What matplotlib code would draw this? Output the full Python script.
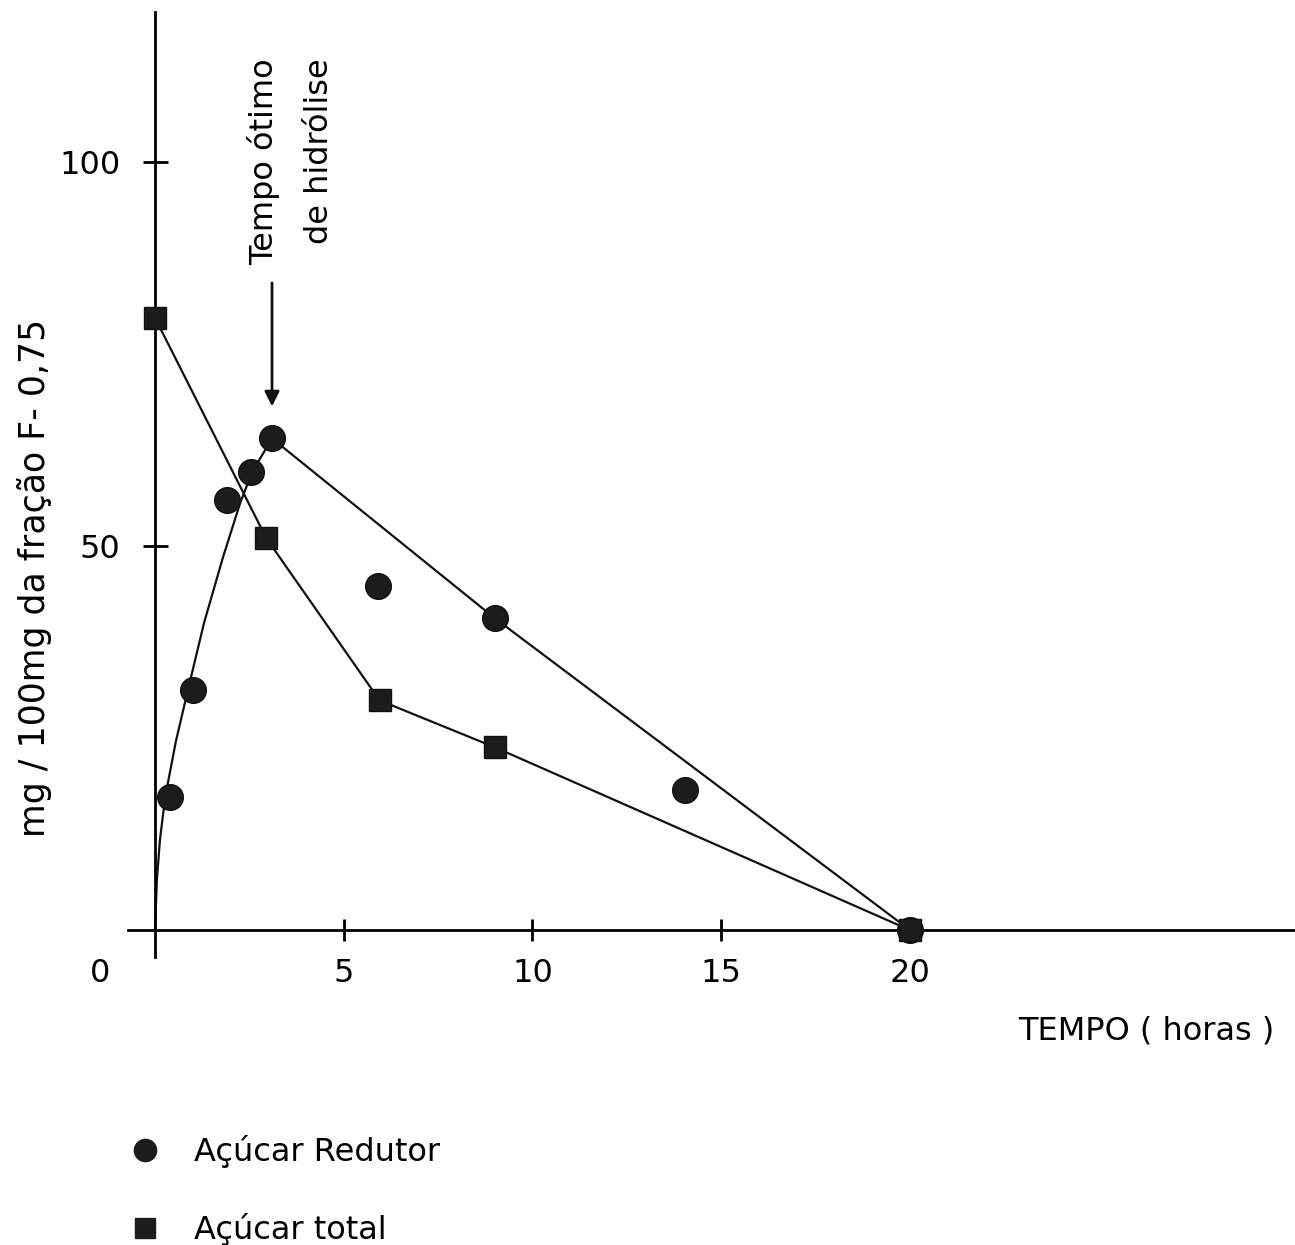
import numpy as np
import matplotlib
matplotlib.use("Agg")
import matplotlib.pyplot as plt
from matplotlib.lines import Line2D

plt.rcParams['font.family'] = ['DejaVu Sans']

# Açúcar Redutor (circles)
red_x = [0.4, 1.0, 1.9, 2.55, 3.1, 5.9, 9.0, 14.05, 20.0]
red_y = [17.3, 31.2, 56.0, 59.6, 64.0, 44.8, 40.6, 18.2, 0.0]
# hand-drawn guide curve for Açúcar Redutor
red_curve_x = [0.0, 0.05, 0.13, 0.27, 0.55, 0.87, 1.3, 1.8, 2.25, 2.57, 3.1, 9.0, 20.0]
red_curve_y = [0.0, 6.5, 11.7, 17.3, 24.5, 31.2, 40.0, 48.5, 55.5, 59.6, 64.0, 40.6, 0.0]

# Açúcar total (squares)
tot_x = [0.0, 2.95, 5.95, 9.0, 20.0]
tot_y = [79.7, 51.0, 29.9, 23.8, 0.0]

xticks = [5, 10, 15, 20]
xtick_labels = ["5", "10", "15", "20"]
yticks = [50, 100]
ytick_labels = ["50", "100"]

W, H = 1295, 1245
fig = plt.figure(figsize=(W / 100, H / 100), dpi=100)
ax = fig.add_axes([128 / W, 1 - 957 / H, (1295 - 128) / W, (957 - 12) / H])
ax.set_xlim(-0.715, 30.2)
ax.set_ylim(-3.5, 119.5)
ax.set_facecolor('white')

for s in ['top', 'right']:
    ax.spines[s].set_visible(False)
ax.spines['left'].set_position(('data', 0))
ax.spines['bottom'].set_position(('data', 0))
ax.spines['left'].set_linewidth(2.0)
ax.spines['bottom'].set_linewidth(2.0)

fs = 23
ax.set_xticks(xticks)
ax.set_xticklabels(xtick_labels, fontsize=fs)
ax.set_yticks(yticks)
ax.set_yticklabels(ytick_labels, fontsize=fs)
ax.tick_params(axis='x', direction='inout', length=16, width=2, pad=12)
ax.tick_params(axis='y', direction='inout', length=18, width=2, pad=16)
ax.text(-1.45, -5.6, "0", fontsize=fs, ha='center', va='center', clip_on=False)

lc = '#111111'
ax.plot(red_curve_x, red_curve_y, color=lc, lw=1.6, zorder=2)
ax.plot(tot_x, tot_y, color=lc, lw=1.6, zorder=2)
ax.plot(red_x, red_y, 'o', ms=18.5, color='#1c1c1c', mec='#111111', zorder=3, clip_on=False)
ax.plot(tot_x, tot_y, 's', ms=16, color='#1c1c1c', mec='#111111', zorder=3, clip_on=False)

# axis labels
ax.text(29.65, -13.1, "TEMPO ( horas )", fontsize=fs, ha='right', va='center', clip_on=False)
fig.text(35 / W, 1 - 578 / H, "mg / 100mg da fração F- 0,75", fontsize=25,
         rotation=90, ha='center', va='center')

# annotation
fig.text(291 / W, 1 - 162 / H, "Tempo ótimo\nde hidrólise", fontsize=fs, rotation=90,
         ha='center', va='center', multialignment='right', linespacing=2.0)
ax.annotate("", xy=(3.1, 67.8), xytext=(3.1, 84.6),
            arrowprops=dict(arrowstyle='-|>', color=lc, lw=2.0, mutation_scale=22))

# legend
handles = [Line2D([], [], ls='none', marker='o', ms=16, color='#1c1c1c'),
           Line2D([], [], ls='none', marker='s', ms=14.5, color='#1c1c1c')]
fig.legend(handles, ["Açúcar Redutor", "Açúcar total"], loc='upper left',
           bbox_to_anchor=(113 / W, 1 - 1135 / H), frameon=False, fontsize=fs,
           labelspacing=1.4, handletextpad=0.55, borderpad=0, borderaxespad=0)

fig.savefig("out.png", dpi=100, facecolor='white')
